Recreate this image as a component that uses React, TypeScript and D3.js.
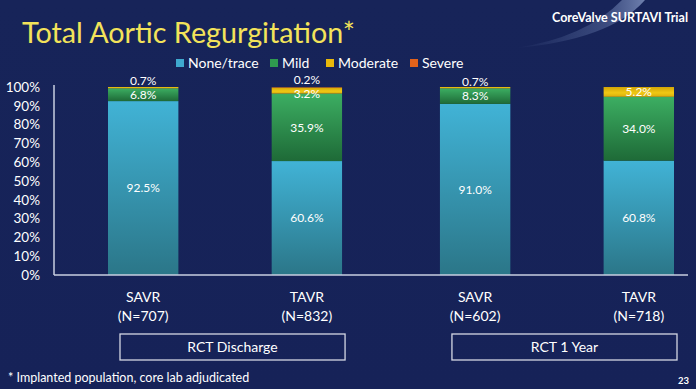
import React from 'react';
import * as d3 from 'd3';

const arms = ['SAVR', 'TAVR', 'SAVR', 'TAVR'];
const sampleSizes = ['(N=707)', '(N=832)', '(N=602)', '(N=718)'];
const groups = ['RCT Discharge', 'RCT 1 Year'];
const noneTrace = [92.5, 60.6, 91.0, 60.8];
const mild = [6.8, 35.9, 8.3, 34.0];
const moderate = [0.7, 3.2, 0.7, 5.2];
const severe = [0, 0.2, 0, 0];
const seriesNames = ['None/trace', 'Mild', 'Moderate', 'Severe'];
const yTicks = [0, 10, 20, 30, 40, 50, 60, 70, 80, 90, 100];

const W = 696;
const H = 389;
const FONT = 'Lato, "Open Sans", sans-serif';

const keys = ['none', 'mild', 'moderate', 'severe'];
const rows = arms.map((arm, i) => ({
  idx: i,
  none: noneTrace[i],
  mild: mild[i],
  moderate: moderate[i],
  severe: severe[i],
}));

export default function App() {
  const y = d3.scaleLinear().domain([0, 100]).range([275, 87]);

  // outer band = group (also the caption box), inner band = arm within group
  const x0 = d3.scaleBand<string>().domain(groups).range([120, 677]).paddingInner(0.322);
  const x1 = d3.scaleBand<string>()
    .domain(['SAVR', 'TAVR'])
    .range([-12, x0.bandwidth() - 3])
    .paddingInner(0.57);
  const barX = (i: number) => (x0(groups[Math.floor(i / 2)]) as number) + (x1(arms[i]) as number);
  const bw = x1.bandwidth();

  const stack = d3.stack<any>().keys(keys)(rows);

  const fills = ['url(#g-none)', 'url(#g-mild)', 'url(#g-mod)', '#e2621b'];
  const legendColors = ['#3fa9cf', '#2f9a4f', '#e8b90c', '#e2621b'];
  const legendX = [176, 270, 326, 410];

  // value labels: small slices go above the bar, thin slices hug the top
  const labels: { x: number; y: number; text: string }[] = [];
  rows.forEach((_, i) => {
    let prevY = Infinity;
    stack.forEach((s) => {
      const d = s[i];
      const v = d[1] - d[0];
      if (v <= 0) return;
      const top = y(d[1]);
      const h = y(d[0]) - top;
      let ly: number;
      if (v < 1) ly = Math.min(top - 5, prevY - 14);
      else if (h < 8) ly = top + 6;
      else ly = top + h / 2;
      prevY = ly;
      labels.push({ x: barX(i) + bw / 2, y: ly, text: d3.format('.1f')(v) + '%' });
    });
  });

  return (
    <svg width={W} height={H} style={{ position: 'absolute', left: 0, top: 0 }}>
      <defs>
        <linearGradient id="bg" x1="0" y1="0" x2="0" y2="1">
          <stop offset="0%" stopColor="#172459" />
          <stop offset="100%" stopColor="#162258" />
        </linearGradient>
        <linearGradient id="swoosh" x1="0" y1="0" x2="1" y2="0">
          <stop offset="0%" stopColor="#8fa6d6" stopOpacity={0} />
          <stop offset="70%" stopColor="#8fa6d6" stopOpacity={0.3} />
          <stop offset="100%" stopColor="#a9bde6" stopOpacity={0.6} />
        </linearGradient>
        <linearGradient id="g-none" x1="0" y1="0" x2="0" y2="1">
          <stop offset="0%" stopColor="#41b3d6" />
          <stop offset="100%" stopColor="#2b7688" />
        </linearGradient>
        <linearGradient id="g-mild" x1="0" y1="0" x2="0" y2="1">
          <stop offset="0%" stopColor="#3cae62" />
          <stop offset="100%" stopColor="#1e6a37" />
        </linearGradient>
        <linearGradient id="g-mod" x1="0" y1="0" x2="0" y2="1">
          <stop offset="0%" stopColor="#d2a507" />
          <stop offset="60%" stopColor="#f0c814" />
          <stop offset="100%" stopColor="#d9ad0a" />
        </linearGradient>
      </defs>

      <rect width={W} height={H} fill="url(#bg)" />
      <path
        d="M 515 48 Q 610 40 645 0 L 622 0 Q 585 38 515 48 Z"
        fill="url(#swoosh)"
      />

      <text x={22} y={43} fill="#f3e35a" fontFamily={FONT} fontSize={29}
        textLength={333} lengthAdjust="spacingAndGlyphs">
        Total Aortic Regurgitation*
      </text>
      <text x={552} y={22} fill="#ffffff" fontFamily={FONT} fontSize={13} fontWeight="bold"
        textLength={136} lengthAdjust="spacingAndGlyphs">
        CoreValve SURTAVI Trial
      </text>

      {/* legend */}
      {seriesNames.map((n, i) => (
        <g key={n}>
          <rect x={legendX[i]} y={59} width={8} height={8} fill={legendColors[i]} />
          <text x={legendX[i] + 12} y={63} dy="0.35em" fill="#ffffff" fontFamily={FONT} fontSize={14}>
            {n}
          </text>
        </g>
      ))}

      {/* y axis */}
      {yTicks.map((t) => (
        <text key={t} x={40} y={y(t)} dy="0.35em" textAnchor="end" fill="#ffffff"
          fontFamily={FONT} fontSize={13.5}>
          {t}%
        </text>
      ))}

      {/* bars */}
      {stack.map((s, k) =>
        s.map((d, i) => {
          const h = y(d[0]) - y(d[1]);
          if (h <= 0) return null;
          return (
            <rect key={k + '-' + i} x={barX(i)} y={y(d[1])} width={bw} height={h} fill={fills[k]} />
          );
        })
      )}

      <line x1={54} x2={54} y1={85} y2={275} stroke="#c9cfe0" strokeWidth={1.5} />
      <line x1={54} x2={688} y1={275} y2={275} stroke="#c9cfe0" strokeWidth={1.5} />

      {labels.map((l, i) => (
        <text key={i} x={l.x} y={l.y} dy="0.35em" textAnchor="middle" fill="#ffffff"
          fontFamily={FONT} fontSize={12}>
          {l.text}
        </text>
      ))}

      {/* category labels */}
      {arms.map((a, i) => (
        <g key={i}>
          <text x={barX(i) + bw / 2} y={297} dy="0.35em" textAnchor="middle" fill="#ffffff"
            fontFamily={FONT} fontSize={14}>
            {a}
          </text>
          <text x={barX(i) + bw / 2} y={316} dy="0.35em" textAnchor="middle" fill="#ffffff"
            fontFamily={FONT} fontSize={14}>
            {sampleSizes[i]}
          </text>
        </g>
      ))}

      {/* group boxes */}
      {groups.map((g) => (
        <g key={g}>
          <rect x={x0(g)} y={334} width={x0.bandwidth()} height={26} fill="none"
            stroke="#d4d8e4" strokeWidth={1.3} />
          <text x={(x0(g) as number) + x0.bandwidth() / 2} y={347} dy="0.35em" textAnchor="middle"
            fill="#ffffff" fontFamily={FONT} fontSize={14}>
            {g}
          </text>
        </g>
      ))}

      <text x={8} y={378} dy="0.35em" fill="#ffffff" fontFamily={FONT} fontSize={12.5}>
        * Implanted population, core lab adjudicated
      </text>
      <text x={689} y={381} dy="0.35em" textAnchor="end" fill="#ffffff" fontFamily={FONT}
        fontSize={9.5} fontWeight="bold">
        23
      </text>
    </svg>
  );
}
